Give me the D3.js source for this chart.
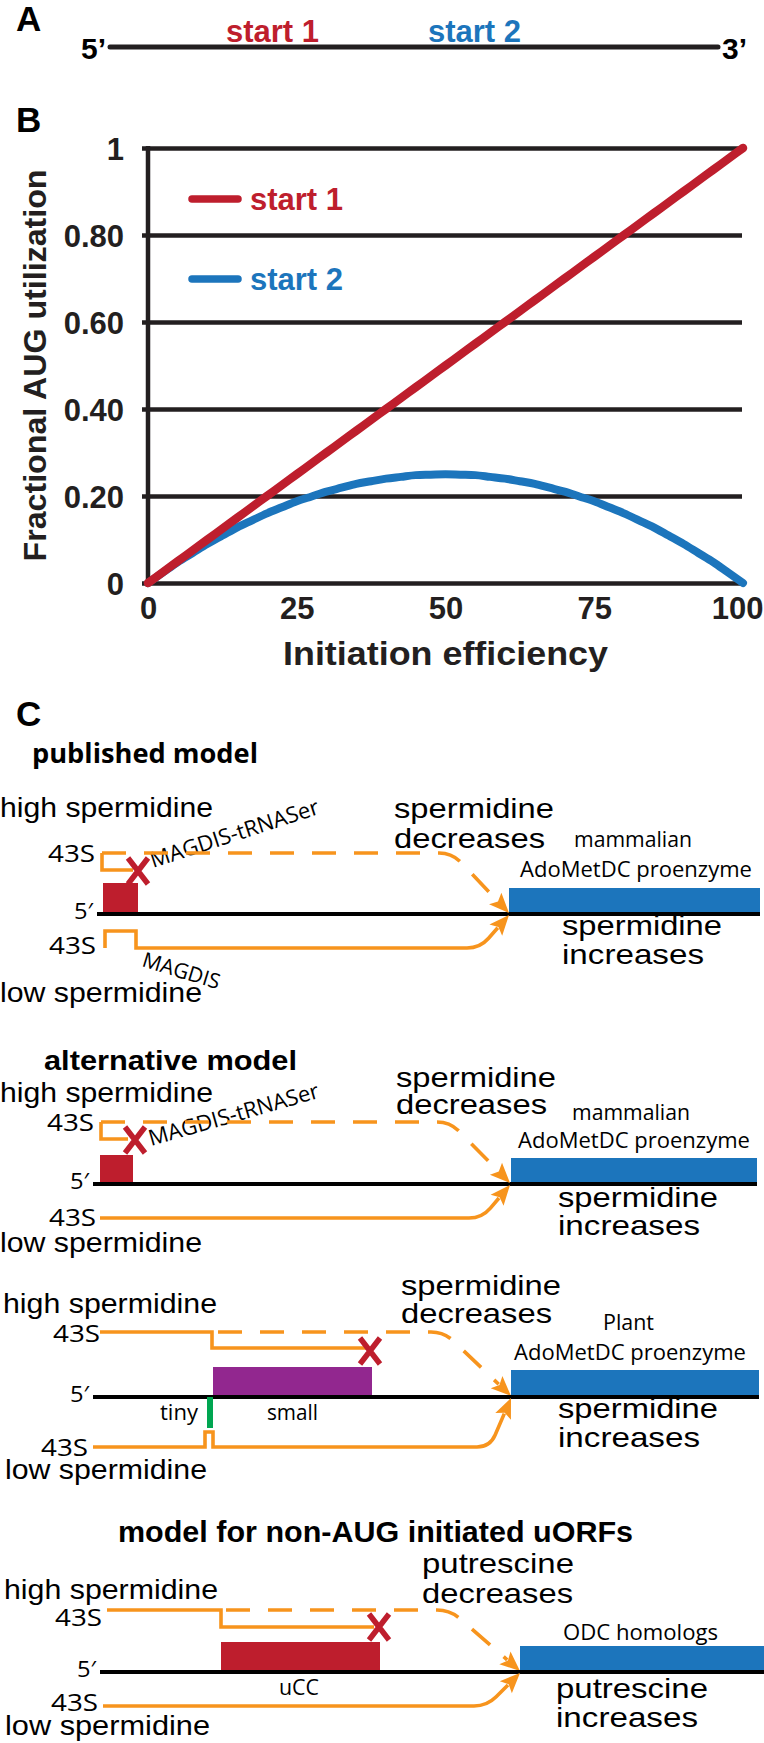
<!DOCTYPE html>
<html><head><meta charset="utf-8">
<script src="https://cdn.jsdelivr.net/npm/d3@7"></script>
<style>body{margin:0;background:#fff}svg{display:block}</style>
</head><body>
<script>
// ---------- data (panel B) ----------
const efficiency = [0,2.5,5,7.5,10,12.5,15,17.5,20,22.5,25,27.5,30,32.5,35,37.5,40,42.5,45,47.5,50,52.5,55,57.5,60,62.5,65,67.5,70,72.5,75,77.5,80,82.5,85,87.5,90,92.5,95,97.5,100];
const start1 = [0.0,0.025,0.05,0.075,0.10,0.125,0.15,0.175,0.20,0.225,0.25,0.275,0.30,0.325,0.35,0.375,0.40,0.425,0.45,0.475,0.50,0.525,0.55,0.575,0.60,0.625,0.65,0.675,0.70,0.725,0.75,0.775,0.80,0.825,0.85,0.875,0.90,0.925,0.95,0.975,1.0];
const start2 = [0.0,0.024,0.048,0.069,0.09,0.109,0.128,0.144,0.16,0.174,0.188,0.199,0.21,0.219,0.228,0.234,0.24,0.244,0.248,0.249,0.25,0.249,0.248,0.244,0.24,0.234,0.228,0.219,0.21,0.199,0.188,0.174,0.16,0.144,0.128,0.109,0.09,0.069,0.048,0.024,0.0];
const xTicks = [0,25,50,75,100];
const yTicks = [0,0.2,0.4,0.6,0.8,1];
const yTickLabels = ["0","0.20","0.40","0.60","0.80","1"];
const seriesNames = ["start 1","start 2"];
const seriesColors = ["#be1e2d","#1c75bc"];

const COL = {red:"#be1e2d", blue:"#1c75bc", orange:"#f7941d", purple:"#92278f", green:"#00a651"};
const FB = "'Liberation Sans', Arial, Helvetica, sans-serif";
const FC = "'Open Sans', 'Noto Sans', sans-serif";

const W = 764, H = 1743;
const svg = d3.select("body").append("svg").attr("width", W).attr("height", H);
svg.append("rect").attr("width", W).attr("height", H).attr("fill", "#fff");

function T(g, x, y, s, o = {}) {
  const t = g.append("text").attr("x", x).attr("y", y).text(s)
    .attr("font-size", o.size || 27).attr("font-family", o.family || FC)
    .attr("font-weight", o.weight || "normal").attr("fill", o.fill || "#000")
    .attr("text-anchor", o.anchor || "start");
  if (o.w) t.attr("textLength", o.w).attr("lengthAdjust", "spacingAndGlyphs");
  if (o.rotate) t.attr("transform", `rotate(${o.rotate},${x},${y})`);
  return t;
}
function TH(g, x, y, s, w, size = 28) { return T(g, x, y, s, {size, family: FB, w}); }

// ---------- Panel A ----------
const gA = svg.append("g");
T(gA, 16, 31, "A", {size: 35, weight: "bold", family: FB});
gA.append("line").attr("x1", 110).attr("x2", 718).attr("y1", 47).attr("y2", 47)
  .attr("stroke", "#231f20").attr("stroke-width", 5).attr("stroke-linecap", "round");
T(gA, 106, 59, "5’", {size: 30, weight: "bold", family: FB, anchor: "end"});
T(gA, 722, 59, "3’", {size: 30, weight: "bold", family: FB});
T(gA, 226, 42, seriesNames[0], {size: 31, weight: "bold", family: FB, fill: seriesColors[0]});
T(gA, 428, 42, seriesNames[1], {size: 31, weight: "bold", family: FB, fill: seriesColors[1]});

// ---------- Panel B ----------
const gB = svg.append("g");
T(gB, 16, 132, "B", {size: 35, weight: "bold", family: FB});
const x = d3.scaleLinear().domain([0, 100]).range([148, 743]);
const y = d3.scaleLinear().domain([0, 1]).range([583, 148]);

const yAxis = d3.axisLeft(y).tickValues(yTicks)
  .tickFormat((d, i) => yTickLabels[i])
  .tickSize(-(x(100) - x(0) + 5)).tickPadding(18);
const gy = gB.append("g").attr("transform", `translate(${x(0) - 6},0)`).call(yAxis);
gy.select(".domain").remove();
gy.selectAll(".tick line").attr("stroke", "#231f20").attr("stroke-width", 4.5).attr("x1", 0);
gy.selectAll(".tick text").attr("font-size", 31).attr("font-family", FB)
  .attr("font-weight", "bold").attr("fill", "#231f20").attr("dy", "0.36em");

gB.append("line").attr("x1", x(0)).attr("x2", x(0)).attr("y1", y(1) - 2).attr("y2", y(0) + 2)
  .attr("stroke", "#231f20").attr("stroke-width", 4.5);

const xAxis = d3.axisBottom(x).tickValues(xTicks).tickSize(0).tickPadding(14);
const gx = gB.append("g").attr("transform", `translate(0,${y(0)})`).call(xAxis);
gx.select(".domain").remove();
gx.selectAll(".tick text").attr("font-size", 31).attr("font-family", FB)
  .attr("font-weight", "bold").attr("fill", "#231f20");
gx.selectAll(".tick text").filter(d => d === 100)
  .attr("text-anchor", "end").attr("x", W - 1 - x(100));

T(gB, (x(0) + x(100)) / 2, 665, "Initiation efficiency", {size: 33, weight: "bold", family: FB, anchor: "middle", fill: "#231f20", w: 325});
T(gB, 46, (y(0) + y(1)) / 2, "Fractional AUG utilization", {size: 32, weight: "bold", family: FB, anchor: "middle", rotate: -90, fill: "#231f20", w: 392});

const line = d3.line().x((d, i) => x(efficiency[i])).y(d => y(d)).curve(d3.curveMonotoneX);
gB.append("path").attr("d", line(start2)).attr("fill", "none")
  .attr("stroke", seriesColors[1]).attr("stroke-width", 8)
  .attr("stroke-linecap", "round").attr("stroke-linejoin", "round");
gB.append("path").attr("d", line(start1)).attr("fill", "none")
  .attr("stroke", seriesColors[0]).attr("stroke-width", 8.5)
  .attr("stroke-linecap", "round").attr("stroke-linejoin", "round");

// legend
const legY = [199, 279];
seriesNames.forEach((n, i) => {
  gB.append("line").attr("x1", 192).attr("x2", 238).attr("y1", legY[i]).attr("y2", legY[i])
    .attr("stroke", seriesColors[i]).attr("stroke-width", 7.5).attr("stroke-linecap", "round");
  T(gB, 250, legY[i] + 11, n, {size: 31, weight: "bold", family: FB, fill: seriesColors[i]});
});

// ---------- Panel C ----------
const gC = svg.append("g");
T(gC, 16, 726, "C", {size: 35, weight: "bold", family: FB});

function roundedPath(pts) {
  let d = `M${pts[0][0]},${pts[0][1]}`;
  for (let i = 1; i < pts.length - 1; i++) {
    const p = pts[i], a = pts[i - 1], b = pts[i + 1];
    const rr = p[2] || 0;
    if (!rr) { d += `L${p[0]},${p[1]}`; continue; }
    const l1 = Math.hypot(p[0] - a[0], p[1] - a[1]), l2 = Math.hypot(b[0] - p[0], b[1] - p[1]);
    const s = [p[0] - (p[0] - a[0]) / l1 * rr, p[1] - (p[1] - a[1]) / l1 * rr];
    const e = [p[0] + (b[0] - p[0]) / l2 * rr, p[1] + (b[1] - p[1]) / l2 * rr];
    d += `L${s[0]},${s[1]}Q${p[0]},${p[1]} ${e[0]},${e[1]}`;
  }
  const L = pts[pts.length - 1];
  d += `L${L[0]},${L[1]}`;
  return d;
}
function orange(g, pts, dashed, arrow) {
  pts = pts.map(p => p.slice());
  if (arrow) {
    const n = pts.length, T0 = pts[n - 1], P = pts[n - 2];
    const len = Math.hypot(T0[0] - P[0], T0[1] - P[1]);
    const dx = (T0[0] - P[0]) / len, dy = (T0[1] - P[1]) / len;
    const al = 20, aw = 8.5;
    const B = [T0[0] - dx * al, T0[1] - dy * al];
    g.append("path").attr("d", `M${T0[0]},${T0[1]}L${B[0] - dy * aw},${B[1] + dx * aw}L${B[0] + dx * 4},${B[1] + dy * 4}L${B[0] + dy * aw},${B[1] - dx * aw}Z`)
      .attr("fill", COL.orange);
    pts[n - 1] = [B[0] + dx * 3, B[1] + dy * 3];
  }
  g.append("path").attr("d", roundedPath(pts)).attr("fill", "none")
    .attr("stroke", COL.orange).attr("stroke-width", 3.6)
    .attr("stroke-dasharray", dashed ? "24,18" : null);
}
function cross(g, cx, cy) {
  g.append("path").attr("d", `M${cx - 10},${cy - 13}L${cx + 10},${cy + 13}M${cx + 10},${cy - 13}L${cx - 10},${cy + 13}`)
    .attr("stroke", COL.red).attr("stroke-width", 5.5).attr("fill", "none");
}
function box(g, x0, x1, y0, y1, c) {
  g.append("rect").attr("x", x0).attr("y", y0).attr("width", x1 - x0).attr("height", y1 - y0).attr("fill", c);
}
function mrna(g, x0, x1, yy) {
  g.append("line").attr("x1", x0).attr("x2", x1).attr("y1", yy).attr("y2", yy)
    .attr("stroke", "#000").attr("stroke-width", 4);
  T(g, x0 - 4, yy + 5, "5′", {size: 22, anchor: "end", w: 19});
}
const S43 = (g, xe, yb) => T(g, xe, yb, "43S", {size: 24, anchor: "end", w: 47});

// --- published model ---
T(gC, 32, 763, "published model", {size: 26, weight: "bold", w: 226});
TH(gC, 0, 817, "high spermidine", 213);
S43(gC, 95, 862);
T(gC, 153, 868, "MAGDIS-tRNASer", {size: 22, rotate: -18});
TH(gC, 394, 818, "spermidine", 160); TH(gC, 394, 848, "decreases", 151);
T(gC, 574, 847, "mammalian", {size: 21, w: 118});
T(gC, 520, 877, "AdoMetDC proenzyme", {size: 22, w: 232});
box(gC, 103, 138, 883, 914, COL.red);
box(gC, 509, 760, 888, 914, COL.blue);
mrna(gC, 97, 760, 914);
orange(gC, [[102, 853], [102, 870], [133, 870]], false, false);
orange(gC, [[102, 853], [452, 853, 13], [509, 913]], true, true);
cross(gC, 138, 871);
S43(gC, 96, 954);
orange(gC, [[105, 948], [105, 931], [136, 931], [136, 948], [480, 948, 13], [509, 915]], false, true);
T(gC, 141, 966, "MAGDIS", {size: 21, rotate: 17});
TH(gC, 0, 1002, "low spermidine", 202);
TH(gC, 562, 935, "spermidine", 160); TH(gC, 562, 964, "increases", 142);

// --- alternative model ---
T(gC, 44, 1070, "alternative model", {size: 28, weight: "bold", family: FB, w: 253});
TH(gC, 0, 1102, "high spermidine", 213);
S43(gC, 94, 1131);
T(gC, 151, 1146, "MAGDIS-tRNASer", {size: 22, rotate: -16});
TH(gC, 396, 1087, "spermidine", 160); TH(gC, 396, 1114, "decreases", 151);
T(gC, 572, 1120, "mammalian", {size: 21, w: 118});
T(gC, 518, 1148, "AdoMetDC proenzyme", {size: 22, w: 232});
box(gC, 100, 133, 1155, 1184, COL.red);
box(gC, 511, 757, 1158, 1184, COL.blue);
mrna(gC, 93, 757, 1184);
orange(gC, [[101, 1122], [101, 1139], [128, 1139]], false, false);
orange(gC, [[101, 1122], [450, 1122, 13], [510, 1183]], true, true);
cross(gC, 135, 1140);
S43(gC, 96, 1226);
orange(gC, [[100, 1218], [482, 1218, 13], [510, 1185]], false, true);
TH(gC, 0, 1252, "low spermidine", 202);
TH(gC, 558, 1207, "spermidine", 160); TH(gC, 558, 1235, "increases", 142);

// --- plant ---
TH(gC, 3, 1313, "high spermidine", 214);
TH(gC, 401, 1295, "spermidine", 160); TH(gC, 401, 1323, "decreases", 151);
T(gC, 603, 1330, "Plant", {size: 21.5, w: 51});
T(gC, 514, 1360, "AdoMetDC proenzyme", {size: 22, w: 232});
S43(gC, 100, 1342);
orange(gC, [[100, 1332], [212, 1332], [212, 1348], [368, 1348]], false, false);
orange(gC, [[218, 1332], [444, 1332, 13], [511, 1396]], true, true);
cross(gC, 370, 1351);
box(gC, 213, 372, 1367, 1396, COL.purple);
box(gC, 511, 759, 1370, 1397, COL.blue);
mrna(gC, 93, 759, 1397);
box(gC, 207, 213, 1397, 1428, COL.green);
T(gC, 160, 1420, "tiny", {size: 21.5, w: 38});
T(gC, 267, 1420, "small", {size: 21.5, w: 51});
TH(gC, 558, 1418, "spermidine", 160); TH(gC, 558, 1447, "increases", 142);
S43(gC, 88, 1456);
orange(gC, [[93, 1447], [205, 1447], [205, 1432], [213, 1432], [213, 1447], [490, 1447, 13], [511, 1398]], false, true);
TH(gC, 5, 1479, "low spermidine", 202);

// --- non-AUG model ---
T(gC, 118, 1542, "model for non-AUG initiated uORFs", {size: 30, weight: "bold", family: FB, w: 515});
TH(gC, 422, 1573, "putrescine", 152); TH(gC, 422, 1603, "decreases", 151);
TH(gC, 4, 1599, "high spermidine", 214);
S43(gC, 102, 1626);
orange(gC, [[107, 1610], [221, 1610], [221, 1627], [374, 1627]], false, false);
orange(gC, [[226, 1610], [450, 1610, 13], [520, 1671]], true, true);
cross(gC, 379, 1627);
T(gC, 563, 1640, "ODC homologs", {size: 22, w: 155});
box(gC, 221, 380, 1642, 1672, COL.red);
box(gC, 520, 764, 1646, 1672, COL.blue);
mrna(gC, 100, 764, 1672);
T(gC, 279, 1695, "uCC", {size: 21, w: 40});
S43(gC, 98, 1711);
orange(gC, [[103, 1706], [487, 1706, 13], [520, 1673]], false, true);
TH(gC, 556, 1698, "putrescine", 152); TH(gC, 556, 1727, "increases", 142);
TH(gC, 5, 1735, "low spermidine", 205);
</script>
</body></html>
